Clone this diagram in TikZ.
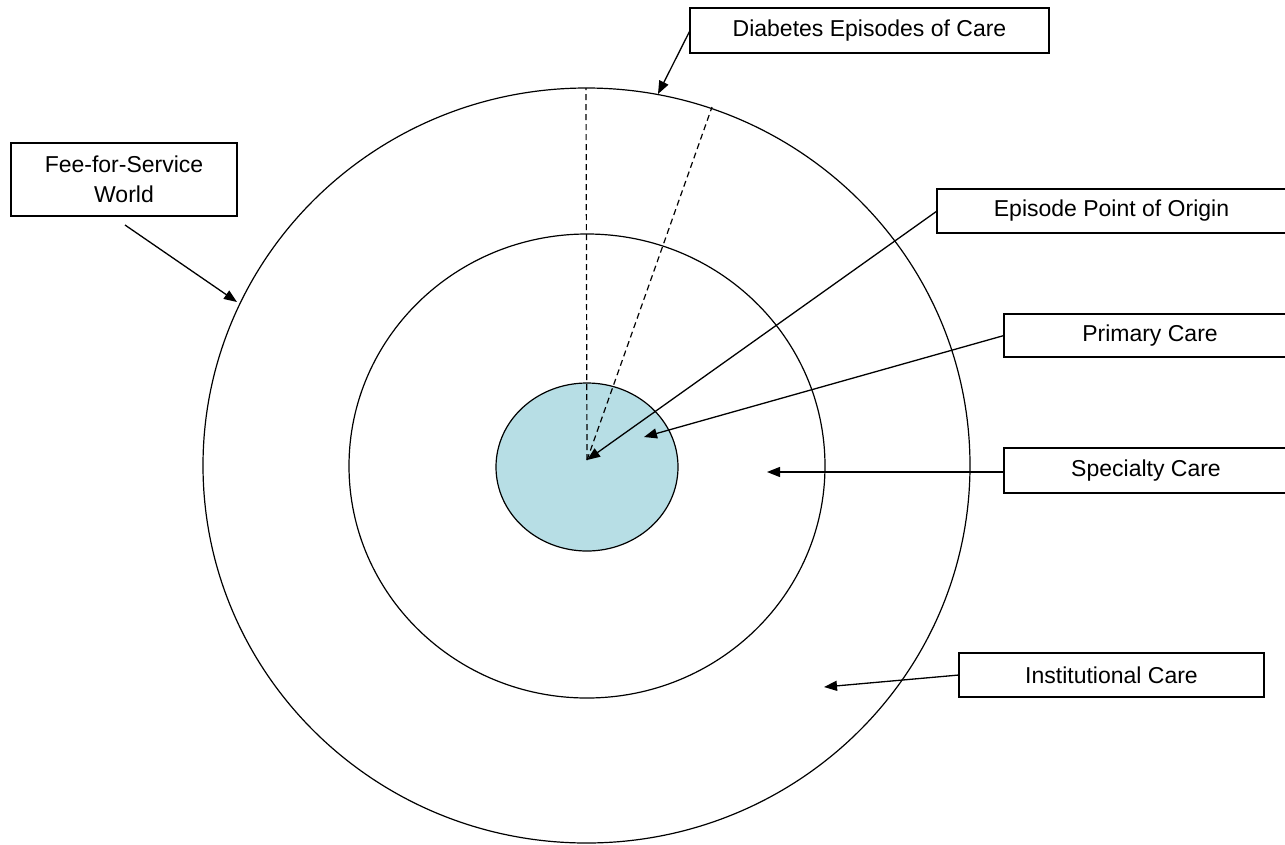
\documentclass[tikz,border=0pt]{standalone}
\usepackage{fontspec}
\setmainfont{Liberation Sans}
\usetikzlibrary{shapes.geometric,arrows.meta}
\definecolor{corefill}{HTML}{B7DEE5}
\tikzset{
  ring/.style={draw, ellipse, line width=1.2pt, inner sep=0pt, outer sep=0pt},
  labelbox/.style={draw, fill=white, line width=1.3pt, inner sep=0pt, outer sep=0pt,
    align=center, font=\fontsize{23}{30}\selectfont},
  pointer/.style={line width=1.3pt, -{Triangle[length=13pt,width=10pt]}},
  radial/.style={line width=1.2pt, dash pattern=on 6pt off 4pt},
}
\begin{document}
\begin{tikzpicture}[x=1pt,y=-1pt]
  \clip (0,0) rectangle (1285,844);
  \useasboundingbox (0,0) rectangle (1285,844);

  % nested care settings
  \node[ring, minimum width=767, minimum height=755] (world) at (586.5,465.5) {};
  \node[ring, minimum width=476, minimum height=464] (specialty) at (587,466) {};
  \node[ring, fill=corefill, minimum width=182, minimum height=168] (core) at (587,467) {};

  % origin of an episode and its radial spread
  \coordinate (origin) at (587,460);
  \coordinate (rimA) at (586,88);
  \coordinate (rimB) at (712,107);
  \draw[radial] (origin) -- (rimA);
  \draw[radial] (origin) -- (rimB);

  % labels
  \node[labelbox, minimum width=359, minimum height=45] (dia) at (869.5,30.5) {Diabetes Episodes of Care};
  \node[labelbox, minimum width=226, minimum height=73] (fee) at (124,179.5) {Fee-for-Service\\World};
  \node[labelbox, minimum width=349, minimum height=44] (epi) at (1111.5,211) {Episode Point of Origin};
  \node[labelbox, minimum width=292, minimum height=43] (prim) at (1150,335.5) {Primary Care};
  \node[labelbox, minimum width=284, minimum height=45] (spec) at (1146,470.5) {Specialty Care};
  \node[labelbox, minimum width=305, minimum height=44] (inst) at (1111.5,675) {Institutional Care};

  % pointer targets
  \coordinate (feeStart) at (125,225);
  \coordinate (diaTip) at (658,94);
  \coordinate (feeTip) at (237,302);
  \coordinate (primTip) at (644,437);
  \coordinate (specTip) at (767,472);
  \coordinate (instTip) at (824,687);

  % pointers
  \draw[pointer] (dia.west) -- (diaTip);
  \draw[pointer] (feeStart) -- (feeTip);
  \draw[pointer] (epi.west) -- (origin);
  \draw[pointer] (prim.west) -- (primTip);
  \draw[pointer] (spec.west |- specTip) -- (specTip);
  \draw[pointer] (inst.west) -- (instTip);
\end{tikzpicture}
\end{document}
